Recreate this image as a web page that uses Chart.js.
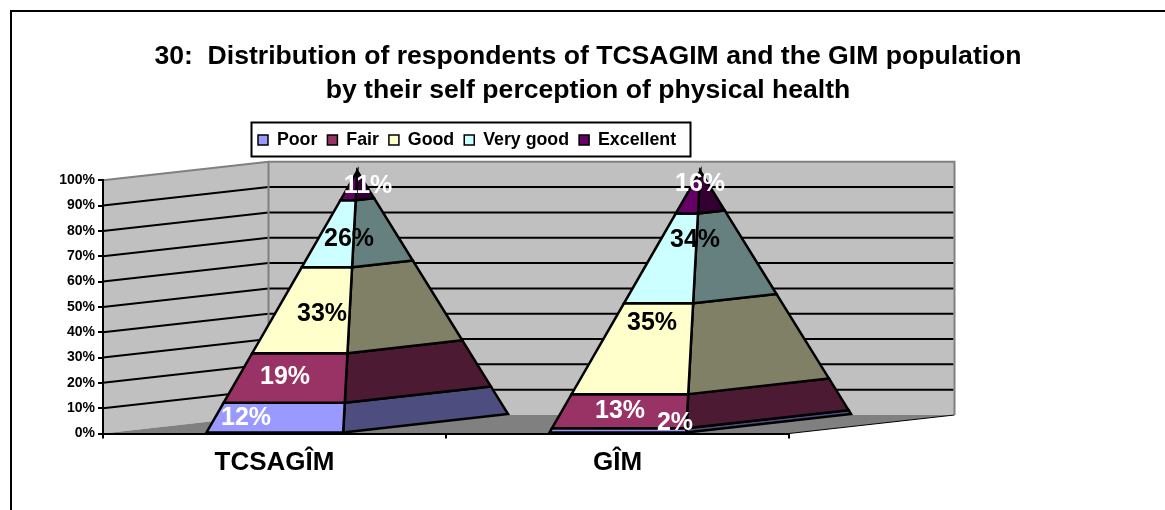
<!DOCTYPE html>
<html>
<head>
<meta charset="utf-8">
<style>html,body{margin:0;padding:0;background:#fff}canvas{display:block}</style>
<script src="https://cdn.jsdelivr.net/npm/chart.js@4"></script>
</head>
<body>
<canvas id="c" width="1165" height="510"></canvas>
<script>
const categories = ['TCSAGÎM', 'GÎM'];
const poor = [11.7, 2.0];
const fair = [18.9, 13.0];
const good = [32.7, 34.6];
const veryGood = [25.6, 34.2];
const excellent = [11.1, 16.2];
const titleLines = ['30:  Distribution of respondents of TCSAGIM and the GIM population', 'by their self perception of physical health'];

const seriesNames = ['Poor', 'Fair', 'Good', 'Very good', 'Excellent'];
const seriesValues = [poor, fair, good, veryGood, excellent];
const frontColors = ['#9999FF', '#993366', '#FFFFCC', '#CCFFFF', '#660066'];
const sideColors = ['#4D4D80', '#4D1A33', '#808066', '#668080', '#330033'];
const labelColors = ['#fff', '#fff', '#000', '#000', '#fff'];
// hand placement of the percentage labels: [series][category] -> [dx, dy] from the bar centre
const labelShift = [
  [[-28.5, 0], [57.5, -7]],
  [[10.5, -3], [2.5, -1]],
  [[47.5, -1], [34.5, -28.5]],
  [[74.5, -2], [77.5, -24]],
  [[93.5, -8.5], [82.5, -17]]
];
const FONT = '"Liberation Sans", Arial, sans-serif';
const DEPTH_X = 165.5, DEPTH_Y = -18.5;

function poly(ctx, pts, fill) {
  ctx.beginPath();
  pts.forEach((p, i) => i ? ctx.lineTo(p[0], p[1]) : ctx.moveTo(p[0], p[1]));
  ctx.closePath();
  if (fill) { ctx.fillStyle = fill; ctx.fill(); }
}
function seg(ctx, x1, y1, x2, y2, color, w) {
  ctx.strokeStyle = color; ctx.lineWidth = w;
  ctx.beginPath(); ctx.moveTo(x1, y1); ctx.lineTo(x2, y2); ctx.stroke();
}

const scene = {
  id: 'scene',
  afterLayout(chart) {
    // title and legend sit over the whole picture, not over the plot area
    const t = chart.titleBlock, l = chart.legend;
    t.left = 22; t.right = 1154; t.top = 0; t.bottom = t.height;
    const w = l.width;
    l.left = 248; l.right = l.left + w; l.top = 121;
  },
  beforeDraw(chart) {
    const ctx = chart.ctx, a = chart.chartArea, ys = chart.scales.y;
    ctx.save();
    // outer frame
    ctx.strokeStyle = '#000'; ctx.lineWidth = 2;
    ctx.beginPath(); ctx.moveTo(11, 520); ctx.lineTo(11, 11); ctx.lineTo(1170, 11); ctx.stroke();
    const L = a.left, R = a.right, T = a.top, B = a.bottom;
    // walls
    poly(ctx, [[L, T], [L + DEPTH_X, T + DEPTH_Y], [L + DEPTH_X, B + DEPTH_Y], [L, B]], '#C0C0C0');
    poly(ctx, [[L + DEPTH_X, T + DEPTH_Y], [R + DEPTH_X, T + DEPTH_Y], [R + DEPTH_X, B + DEPTH_Y], [L + DEPTH_X, B + DEPTH_Y]], '#C0C0C0');
    // floor
    poly(ctx, [[L, B], [R, B], [R + DEPTH_X, B + DEPTH_Y], [L + DEPTH_X, B + DEPTH_Y]], '#808080');
    seg(ctx, R, B, R + DEPTH_X, B + DEPTH_Y, '#000', 1);
    // gridlines
    ys.ticks.forEach(tk => {
      if (tk.value === 0 || tk.value === 100) return;
      const y = ys.getPixelForValue(tk.value);
      seg(ctx, L, y, L + DEPTH_X, y + DEPTH_Y, '#000', 2);
      seg(ctx, L + DEPTH_X, y + DEPTH_Y, R + DEPTH_X - 1, y + DEPTH_Y, '#000', 2);
    });
    // wall edges
    ctx.strokeStyle = '#808080'; ctx.lineWidth = 2;
    ctx.beginPath();
    ctx.moveTo(L, T); ctx.lineTo(L + DEPTH_X, T + DEPTH_Y); ctx.lineTo(R + DEPTH_X, T + DEPTH_Y); ctx.lineTo(R + DEPTH_X, B + DEPTH_Y);
    ctx.moveTo(L + DEPTH_X, T + DEPTH_Y); ctx.lineTo(L + DEPTH_X, B + DEPTH_Y);
    ctx.stroke();
    // legend box
    ctx.fillStyle = '#fff'; ctx.fillRect(251.5, 122.5, 439, 34);
    ctx.strokeStyle = '#000'; ctx.lineWidth = 2;
    ctx.strokeRect(251.5, 122.5, 439, 34);
    ctx.restore();
  },
  afterDatasetsDraw(chart) {
    const ctx = chart.ctx, ys = chart.scales.y;
    const y0 = ys.getPixelForValue(0), y100 = ys.getPixelForValue(100);
    ctx.save();
    ctx.lineJoin = 'miter';
    chart.data.datasets.forEach((ds, si) => {
      chart.getDatasetMeta(si).data.forEach(bar => {
        const hw = bar.width / 2;
        const apex = [bar.x + DEPTH_X / 2, y100 + DEPTH_Y / 2];
        const at = (corner, py) => {
          const t = (y0 - py) / (y0 - y100);
          return [corner[0] + (apex[0] - corner[0]) * t, corner[1] + (apex[1] - corner[1]) * t];
        };
        const FL = [bar.x - hw, y0], FR = [bar.x + hw, y0], BR = [bar.x + hw + DEPTH_X, y0 + DEPTH_Y];
        const a = at(FL, bar.base), b = at(FR, bar.base), c = at(BR, bar.base);
        const d = at(BR, bar.y), e = at(FR, bar.y), f = at(FL, bar.y);
        ctx.strokeStyle = '#000'; ctx.lineWidth = 2.5;
        poly(ctx, [b, c, d, e], sideColors[si]); ctx.stroke();
        poly(ctx, [a, b, e, f], frontColors[si]); ctx.stroke();
      });
    });
    // percentage labels on top of every layer
    ctx.font = 'bold 25px ' + FONT;
    ctx.textAlign = 'center'; ctx.textBaseline = 'middle';
    chart.data.datasets.forEach((ds, si) => {
      chart.getDatasetMeta(si).data.forEach((bar, ci) => {
        const s = labelShift[si][ci];
        ctx.fillStyle = labelColors[si];
        ctx.fillText(Math.round(ds.data[ci]) + '%', bar.x + s[0], (bar.y + bar.base) / 2 + s[1]);
      });
    });
    ctx.restore();
  }
};

new Chart(document.getElementById('c'), {
  type: 'bar',
  data: {
    labels: categories,
    datasets: seriesNames.map((n, i) => ({
      label: n,
      data: seriesValues[i],
      backgroundColor: 'rgba(0,0,0,0)',
      borderWidth: 0,
      stack: 's',
      categoryPercentage: 1,
      barPercentage: 0.4
    }))
  },
  plugins: [scene],
  options: {
    responsive: false,
    animation: false,
    devicePixelRatio: 1,
    layout: { padding: { left: 22, right: 376, top: 0, bottom: 0 } },
    plugins: {
      title: {
        display: true,
        text: titleLines,
        color: '#000',
        font: { family: FONT, size: 26.6, weight: 'bold', lineHeight: 1.278 },
        padding: { top: 40, bottom: 34.5 }
      },
      legend: {
        display: true,
        position: 'top',
        align: 'start',
        labels: {
          color: '#000',
          font: { family: FONT, size: 17.8, weight: 'bold' },
          boxWidth: 10, boxHeight: 10, padding: 10,
          generateLabels(chart) {
            return seriesNames.map((n, i) => ({
              text: n, fillStyle: frontColors[i], strokeStyle: '#000', lineWidth: 1.5,
              datasetIndex: i, hidden: false
            }));
          }
        }
      },
      tooltip: { enabled: false }
    },
    scales: {
      x: {
        stacked: true,
        grid: { drawOnChartArea: false, color: '#000', lineWidth: 2, tickLength: 5, tickColor: '#000' },
        border: { color: '#000', width: 2 },
        ticks: { color: '#000', font: { family: FONT, size: 26, weight: 'bold' }, padding: 9, maxRotation: 0 },
        afterFit(s) { s.height = 510 - 433.5; }
      },
      y: {
        stacked: true,
        min: 0, max: 100,
        grid: { drawOnChartArea: false, color: '#000', lineWidth: 2, tickLength: 5, tickColor: '#000' },
        border: { color: '#000', width: 2 },
        ticks: { stepSize: 10, color: '#000', font: { family: FONT, size: 14, weight: 'bold' }, padding: 3, callback: v => v + '%' },
        afterFit(s) { s.width = 103 - 22; }
      }
    }
  }
});
</script>
</body>
</html>
